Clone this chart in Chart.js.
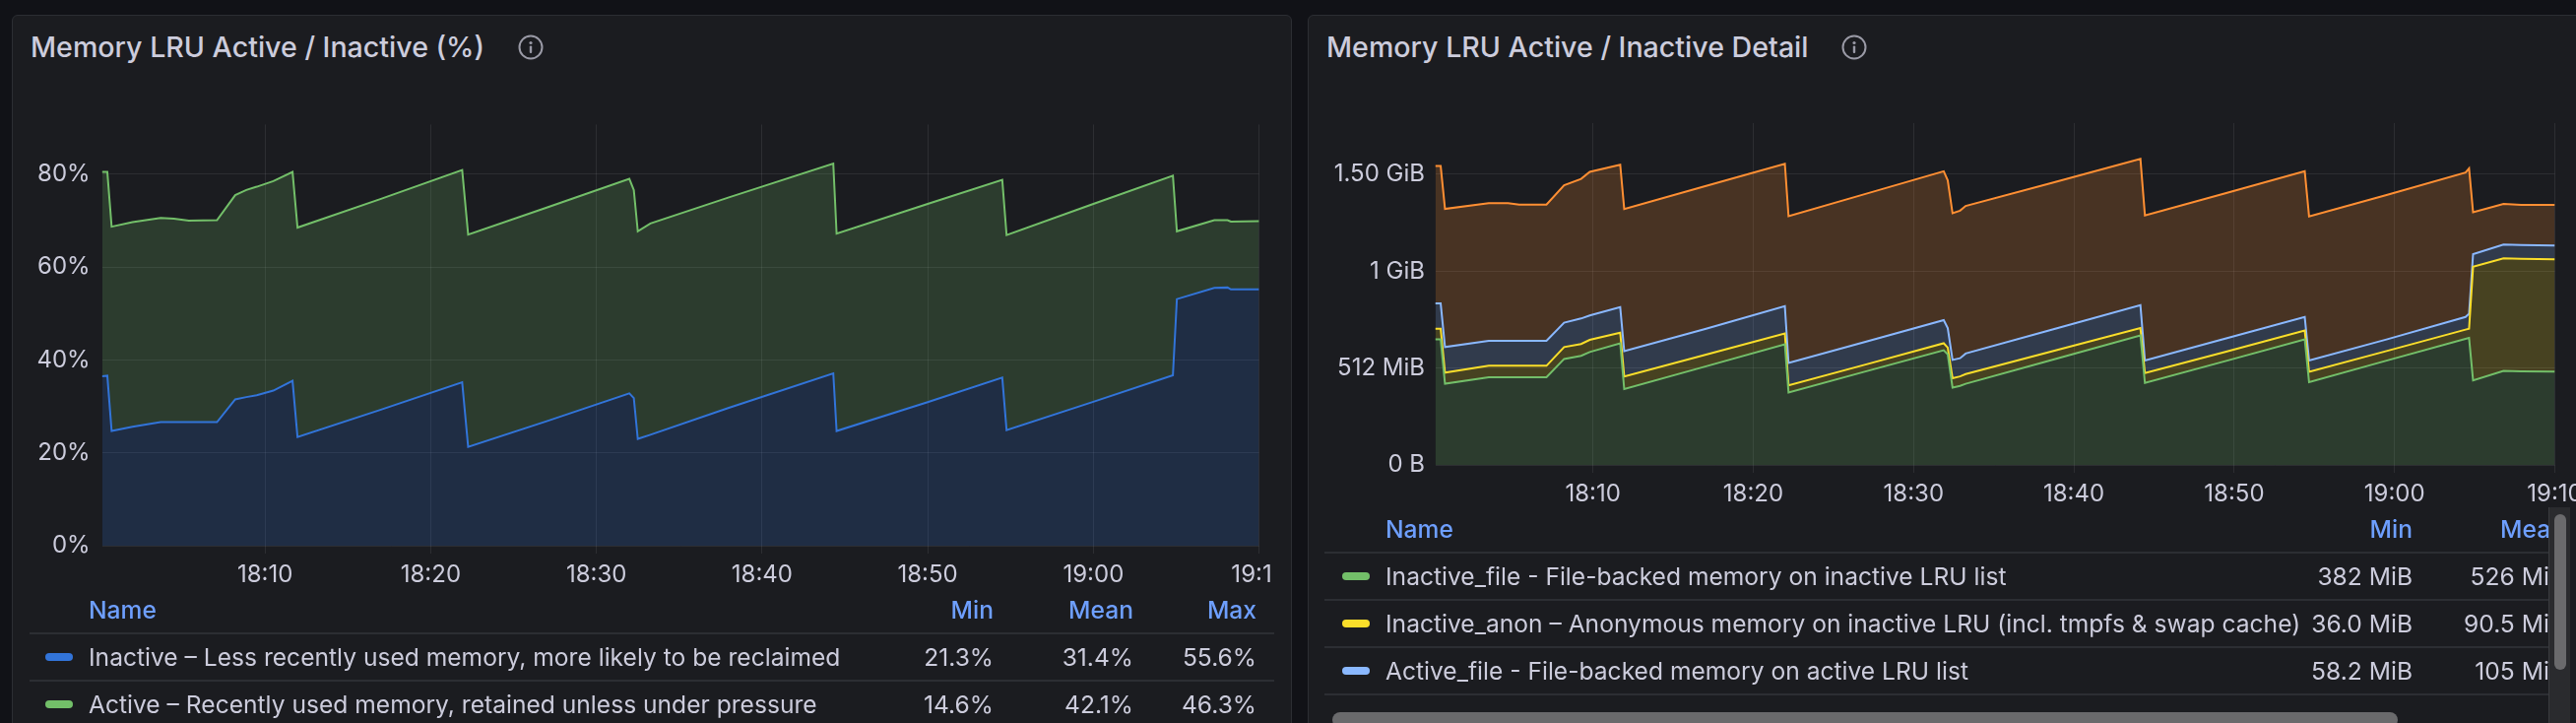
<!DOCTYPE html>
<html>
<head>
<meta charset="utf-8">
<script src="https://cdn.jsdelivr.net/npm/chart.js@4.4.1/dist/chart.umd.min.js"></script>
<style>
  html, body { margin: 0; padding: 0; width: 2616px; height: 734px; overflow: hidden; background: #111217; font-family: Inter, 'Noto Sans', sans-serif; color: #ccccdc; }
  .panel { position: absolute; top: 15px; height: 760px; background: #1b1c20; border: 1px solid #2c2e33; border-radius: 6px; box-sizing: border-box; }
  .title { position: absolute; top: 31px; height: 34px; line-height: 34px; font-size: 28.6px; font-weight: 500; white-space: nowrap; }
  .info { position: absolute; top: 35px; width: 26px; height: 26px; }
  .box { position: absolute; overflow: hidden; }
  .cell { position: absolute; height: 30px; line-height: 30px; font-size: 24.6px; white-space: nowrap; }
  .head { color: #6e9fff; font-weight: 500; }
  .right { text-align: right; }
  .sep { position: absolute; height: 2px; background: #2c2e33; }
  .swatch { position: absolute; width: 28px; height: 8px; border-radius: 4px; }
</style>
</head>
<body>
<div class="panel" style="left:12px; width:1300px;"></div>
<div class="panel" style="left:1328px; width:1320px;"></div>

<div class="title" style="left:31px;">Memory LRU Active / Inactive (%)</div>
<div class="title" style="left:1347px;">Memory LRU Active / Inactive Detail</div>
<svg class="info" style="left:526px;" viewBox="0 0 26 26"><circle cx="13" cy="13" r="11.5" fill="none" stroke="#9a9aa6" stroke-width="2"/><circle cx="13" cy="8.5" r="1.6" fill="#9a9aa6"/><rect x="11.8" y="11.5" width="2.4" height="7.5" rx="1" fill="#9a9aa6"/></svg>
<svg class="info" style="left:1870px;" viewBox="0 0 26 26"><circle cx="13" cy="13" r="11.5" fill="none" stroke="#9a9aa6" stroke-width="2"/><circle cx="13" cy="8.5" r="1.6" fill="#9a9aa6"/><rect x="11.8" y="11.5" width="2.4" height="7.5" rx="1" fill="#9a9aa6"/></svg>

<div class="box" style="left:20px; top:100px; width:1273px; height:510px;">
  <canvas id="pctChart" width="1330" height="510" style="width:1330px;height:510px;"></canvas>
</div>
<div class="box" style="left:1336px; top:100px; width:1300px; height:420px;">
  <canvas id="memChart" width="1300" height="420" style="width:1300px;height:420px;"></canvas>
</div>

<div id="legendLeft"></div>
<div class="box" id="legendRight" style="left:1345px; top:515px; width:1243px; height:203px;"></div>

<!-- scrollbars of the right legend -->
<div style="position:absolute; left:2588px; top:515px; width:21px; height:219px; background:#2a2b2e; border-left:1px solid #3a3b3f;"></div>
<div style="position:absolute; left:2594px; top:522px; width:12px; height:158px; background:#6a6a6c; border-radius:6px;"></div>
<div style="position:absolute; left:1353px; top:723px; width:1082px; height:16px; background:#6a6a6c; border-radius:8px;"></div>

<script>
// minutes after 18:00
const pctTimes = [0.16, 0.48, 0.74, 2.0, 3.7, 4.5, 5.4, 7.1, 8.2, 8.87, 9.5, 10.5, 11.66, 11.96, 17.0, 21.9, 22.26, 27.0, 31.99, 32.26, 32.5, 33.26, 38.0, 44.3, 44.5, 50.0, 54.5, 54.76, 60.0, 64.8, 65.04, 67.3, 68.1, 68.3, 70.0];
const inactivePct = [36.5, 36.6, 24.7, 25.6, 26.6, 26.6, 26.6, 26.6, 31.5, 32.0, 32.4, 33.4, 35.5, 23.4, 29.3, 35.2, 21.3, 26.8, 32.8, 31.8, 23.0, 23.9, 29.7, 37.1, 24.7, 30.9, 36.2, 24.9, 31.0, 36.7, 53.1, 55.5, 55.6, 55.2, 55.2];
const activePct = [44.0, 43.9, 44.0, 44.1, 44.0, 43.8, 43.4, 43.5, 44.0, 44.6, 44.9, 45.1, 45.0, 45.1, 45.4, 45.7, 45.7, 46.0, 46.2, 44.8, 44.7, 45.5, 45.3, 45.2, 42.5, 42.7, 42.6, 42.0, 42.6, 43.0, 14.6, 14.6, 14.5, 14.6, 14.7];

const memTimes = [0.16, 0.5, 0.77, 3.5, 4.7, 5.4, 7.1, 8.2, 9.26, 9.8, 11.7, 11.95, 17.0, 21.97, 22.2, 27.0, 31.88, 32.13, 32.43, 32.9, 33.25, 38.5, 44.15, 44.43, 49.5, 54.4, 54.67, 59.5, 64.43, 64.65, 64.9, 66.8, 67.9, 70.0];
// MiB
const inactiveFile = [664, 664, 429, 463, 463, 463, 463, 560, 577, 597, 643, 401, 520, 638, 383, 494, 606, 584, 409, 418, 429, 552, 685, 433, 550, 664, 438, 551, 666, 671, 447, 497, 495, 493];
const inactiveAnon = [56, 56, 59, 61, 61, 61, 61, 63, 62, 64, 56, 66, 62, 57, 38, 36.5, 37, 36, 49, 50, 51, 45, 38, 52, 49, 46, 54, 51, 49, 49, 600, 595, 594, 594];
const activeFile = [134, 134, 135, 132, 132, 132, 132, 129, 135, 129, 135, 134, 136, 144, 118, 120, 122, 103, 97, 96, 109, 115, 121, 67, 70, 72, 60, 61, 67, 79, 67, 73, 73, 72];
const activeAnon = [726, 726, 730, 728, 728, 720, 720, 726, 738, 759, 753, 752, 755, 753, 776, 782, 787, 781, 775, 780, 780, 776, 773, 767, 768, 770, 762, 763, 763, 768, 222, 214, 212, 215];

const timeTicks = [10, 20, 30, 40, 50, 60, 70];
const timeTickLabels = ['18:10', '18:20', '18:30', '18:40', '18:50', '19:00', '19:10'];
const pctTicks = [0, 20, 40, 60, 80];
const pctTickLabels = ['0%', '20%', '40%', '60%', '80%'];
const memTicks = [0, 512, 1024, 1536];
const memTickLabels = ['0 B', '512 MiB', '1 GiB', '1.50 GiB'];

const pctNames = ['Inactive – Less recently used memory, more likely to be reclaimed', 'Active – Recently used memory, retained unless under pressure'];
const pctMin = ['21.3%', '14.6%'];
const pctMean = ['31.4%', '42.1%'];
const pctMax = ['55.6%', '46.3%'];

const memNames = ['Inactive_file - File-backed memory on inactive LRU list', 'Inactive_anon – Anonymous memory on inactive LRU (incl. tmpfs & swap cache)', 'Active_file - File-backed memory on active LRU list', 'Active_anon – Anonymous memory on active LRU list'];
const memMin = ['382 MiB', '36.0 MiB', '58.2 MiB', '212 MiB'];
const memMean = ['526 MiB', '90.5 MiB', '105 MiB', '712 MiB'];

const pctColors = ['#3274D9', '#73BF69'];
const memColors = ['#73BF69', '#FADE2A', '#8AB8FF', '#FF8F33'];

const textColor = '#ccccdc';
const gridColor = 'rgba(204, 204, 220, 0.1)';

Chart.defaults.font.family = 'Inter, "Noto Sans", sans-serif';
Chart.defaults.font.size = 24;
Chart.defaults.color = textColor;

function withAlpha(hex, a) {
    const n = parseInt(hex.slice(1), 16);
    return `rgba(${(n >> 16) & 255}, ${(n >> 8) & 255}, ${n & 255}, ${a})`;
}

function series(label, color, times, values, index) {
    return {
        label: label,
        data: times.map((t, i) => ({ x: t, y: values[i] })),
        borderColor: color,
        backgroundColor: withAlpha(color, 0.2),
        borderWidth: 2,
        pointRadius: 0,
        tension: 0,
        fill: index === 0 ? 'origin' : '-1'
    };
}

function makeChart(id, datasets, yMax, yTicks, yLabels, size) {
    const ctx = document.getElementById(id).getContext('2d');
    return new Chart(ctx, {
        type: 'line',
        data: { datasets: datasets },
        options: {
            responsive: false,
            animation: false,
            layout: { padding: { left: 0, top: 13, right: size.right, bottom: 0 } },
            plugins: { legend: { display: false }, tooltip: { enabled: false } },
            scales: {
                x: {
                    type: 'linear',
                    min: 0.16,
                    max: 70,
                    afterBuildTicks: scale => { scale.ticks = timeTicks.map(v => ({ value: v })); },
                    afterFit: scale => { scale.height = size.xHeight; },
                    grid: { color: gridColor, tickColor: gridColor, drawTicks: true, tickLength: 8 },
                    border: { display: false },
                    ticks: {
                        color: textColor,
                        padding: 7,
                        maxRotation: 0,
                        autoSkip: false,
                        callback: (v, i) => timeTickLabels[i]
                    }
                },
                y: {
                    stacked: true,
                    min: 0,
                    max: yMax,
                    afterBuildTicks: scale => { scale.ticks = yTicks.map(v => ({ value: v })); },
                    afterFit: scale => { scale.width = size.yWidth; },
                    grid: { color: gridColor, drawTicks: false },
                    border: { display: false },
                    ticks: {
                        color: textColor,
                        padding: size.yPad,
                        callback: (v, i) => yLabels[i]
                    }
                }
            }
        }
    });
}

makeChart('pctChart', [
    series(pctNames[0], pctColors[0], pctTimes, inactivePct, 0),
    series(pctNames[1], pctColors[1], pctTimes, activePct, 1)
], 90.7, pctTicks, pctTickLabels, { right: 71.4, xHeight: 56, yWidth: 83.6, yPad: 12 });

makeChart('memChart', [
    series(memNames[0], memColors[0], memTimes, inactiveFile, 0),
    series(memNames[1], memColors[1], memTimes, inactiveAnon, 1),
    series(memNames[2], memColors[2], memTimes, activeFile, 2),
    series(memNames[3], memColors[3], memTimes, activeAnon, 3)
], 1807, memTicks, memTickLabels, { right: 41.5, xHeight: 48, yWidth: 121.5, yPad: 10.5 });

// legend tables
function cell(parent, text, x, cy, cls, alignRight) {
    const d = document.createElement('div');
    d.className = 'cell ' + (cls || '') + (alignRight ? ' right' : '');
    d.textContent = text;
    d.style.top = (cy - 15) + 'px';
    if (alignRight) {
        d.style.left = (x - 400) + 'px';
        d.style.width = '400px';
    } else {
        d.style.left = x + 'px';
    }
    parent.appendChild(d);
}
function line(parent, x, y, w) {
    const d = document.createElement('div');
    d.className = 'sep';
    d.style.left = x + 'px';
    d.style.top = (y - 1) + 'px';
    d.style.width = w + 'px';
    parent.appendChild(d);
}
function swatch(parent, x, cy, color) {
    const d = document.createElement('div');
    d.className = 'swatch';
    d.style.left = x + 'px';
    d.style.top = (cy - 4) + 'px';
    d.style.background = color;
    parent.appendChild(d);
}

const legendLeft = document.getElementById('legendLeft');
cell(legendLeft, 'Name', 90, 619, 'head');
cell(legendLeft, 'Min', 1009, 619, 'head', true);
cell(legendLeft, 'Mean', 1151, 619, 'head', true);
cell(legendLeft, 'Max', 1276, 619, 'head', true);
pctNames.forEach((name, i) => {
    const cy = 667 + i * 47.5;
    line(legendLeft, 30, cy - 24, 1264);
    swatch(legendLeft, 46, cy, pctColors[i]);
    cell(legendLeft, name, 90, cy);
    cell(legendLeft, pctMin[i], 1009, cy, '', true);
    cell(legendLeft, pctMean[i], 1151, cy, '', true);
    cell(legendLeft, pctMax[i], 1276, cy, '', true);
});

// right legend is inside a clipped box at (1345, 515)
const legendRight = document.getElementById('legendRight');
const ox = 1345, oy = 515;
cell(legendRight, 'Name', 1407 - ox, 537 - oy, 'head');
cell(legendRight, 'Min', 2450 - ox, 537 - oy, 'head', true);
cell(legendRight, 'Mean', 2605 - ox, 537 - oy, 'head', true);
memNames.forEach((name, i) => {
    const cy = 585 + i * 48 - oy;
    line(legendRight, 0, cy - 24, 1243);
    swatch(legendRight, 1363 - ox, cy, memColors[i]);
    cell(legendRight, name, 1407 - ox, cy);
    cell(legendRight, memMin[i], 2450 - ox, cy, '', true);
    cell(legendRight, memMean[i], 2605 - ox, cy, '', true);
});
</script>
</body>
</html>
